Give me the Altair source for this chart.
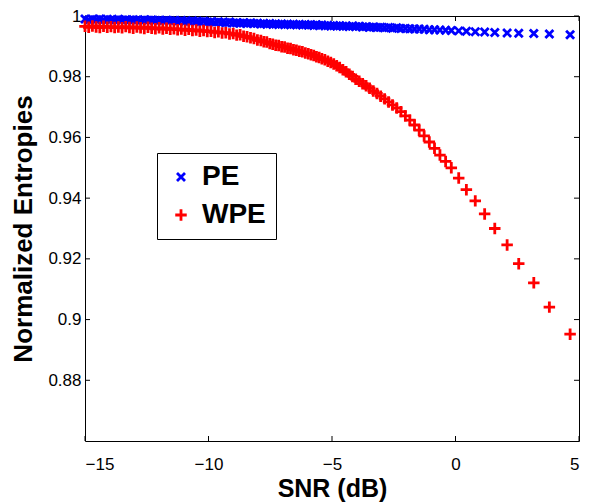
import altair as alt
import pandas as pd

snr = [
    -15.00, -14.85, -14.70, -14.55, -14.40, -14.25, -14.10, -13.95,
    -13.80, -13.65, -13.50, -13.35, -13.20, -13.05, -12.90, -12.75,
    -12.60, -12.45, -12.30, -12.15, -12.00, -11.85, -11.70, -11.55,
    -11.40, -11.25, -11.10, -10.95, -10.80, -10.65, -10.50, -10.35,
    -10.20, -10.05, -9.90, -9.75, -9.60, -9.45, -9.30, -9.15,
    -9.00, -8.86, -8.72, -8.58, -8.44, -8.30, -8.16, -8.02,
    -7.88, -7.76, -7.64, -7.52, -7.40, -7.28, -7.16, -7.04,
    -6.92, -6.80, -6.68, -6.56, -6.44, -6.32, -6.20, -6.08,
    -5.96, -5.85, -5.74, -5.63, -5.52, -5.41, -5.29, -5.17,
    -5.05, -4.93, -4.81, -4.69, -4.56, -4.43, -4.30, -4.17,
    -4.04, -3.90, -3.76, -3.62, -3.48, -3.33, -3.18, -3.03,
    -2.87, -2.71, -2.55, -2.38, -2.21, -2.03, -1.85, -1.66,
    -1.47, -1.27, -1.06, -0.85, -0.63, -0.40, -0.17, 0.13,
    0.44, 0.80, 1.18, 1.59, 2.09, 2.56, 3.17, 3.80,
    4.64,
]

pe = [
    0.9990, 0.9987, 0.9989, 0.9988, 0.9990, 0.9987, 0.9989, 0.9988,
    0.9986, 0.9989, 0.9987, 0.9988, 0.9986, 0.9988, 0.9987, 0.9985,
    0.9988, 0.9986, 0.9987, 0.9985, 0.9986, 0.9984, 0.9986, 0.9984,
    0.9985, 0.9983, 0.9985, 0.9983, 0.9982, 0.9984, 0.9982, 0.9981,
    0.9983, 0.9980, 0.9981, 0.9979, 0.9981, 0.9979, 0.9978, 0.9980,
    0.9977, 0.9978, 0.9976, 0.9978, 0.9975, 0.9977, 0.9975, 0.9976,
    0.9974, 0.9975, 0.9973, 0.9975, 0.9973, 0.9974, 0.9972, 0.9974,
    0.9972, 0.9973, 0.9971, 0.9973, 0.9971, 0.9972, 0.9970, 0.9972,
    0.9970, 0.9971, 0.9969, 0.9971, 0.9969, 0.9970, 0.9968, 0.9969,
    0.9967, 0.9969, 0.9967, 0.9968, 0.9966, 0.9967, 0.9965, 0.9967,
    0.9965, 0.9966, 0.9964, 0.9965, 0.9963, 0.9964, 0.9962, 0.9963,
    0.9961, 0.9962, 0.9960, 0.9961, 0.9959, 0.9959, 0.9958, 0.9957,
    0.9957, 0.9956, 0.9955, 0.9955, 0.9954, 0.9953, 0.9952, 0.9951,
    0.9950, 0.9948, 0.9947, 0.9946, 0.9944, 0.9943, 0.9942, 0.9941,
    0.9938,
]

wpe = [
    0.9966, 0.9963, 0.9967, 0.9964, 0.9962, 0.9966, 0.9963, 0.9965,
    0.9962, 0.9964, 0.9961, 0.9965, 0.9962, 0.9960, 0.9964, 0.9961,
    0.9959, 0.9963, 0.9960, 0.9958, 0.9961, 0.9957, 0.9960, 0.9956,
    0.9958, 0.9955, 0.9957, 0.9953, 0.9956, 0.9952, 0.9954, 0.9950,
    0.9952, 0.9949, 0.9950, 0.9946, 0.9948, 0.9944, 0.9945, 0.9941,
    0.9942, 0.9937, 0.9938, 0.9933, 0.9932, 0.9928, 0.9926, 0.9921,
    0.9919, 0.9915, 0.9914, 0.9909, 0.9907, 0.9904, 0.9903, 0.9899,
    0.9898, 0.9894, 0.9893, 0.9889, 0.9887, 0.9884, 0.9882, 0.9878,
    0.9876, 0.9872, 0.9870, 0.9866, 0.9863, 0.9859, 0.9856, 0.9851,
    0.9847, 0.9842, 0.9836, 0.9830, 0.9823, 0.9816, 0.9808, 0.9801,
    0.9792, 0.9785, 0.9777, 0.9770, 0.9762, 0.9753, 0.9745, 0.9736,
    0.9727, 0.9717, 0.9707, 0.9697, 0.9685, 0.9671, 0.9657, 0.9641,
    0.9624, 0.9605, 0.9585, 0.9564, 0.9542, 0.9521, 0.9500, 0.9466,
    0.9428, 0.9391, 0.9348, 0.9300, 0.9246, 0.9184, 0.9121, 0.9041,
    0.8952,
]

series_names = ["PE", "WPE"]
series_colors = ["#0000ff", "#ff0000"]
x_ticks = [-15, -10, -5, 0, 5]
y_ticks = [0.88, 0.90, 0.92, 0.94, 0.96, 0.98, 1.0]

W, H = 494, 425
FONT = "Liberation Sans, Arial, Helvetica, sans-serif"

rows = []
for s, v in zip(snr, pe):
    rows.append({"snr": s, "entropy": v, "series": "PE"})
for s, v in zip(snr, wpe):
    rows.append({"snr": s, "entropy": v, "series": "WPE"})
df = pd.DataFrame(rows)

xscale = alt.Scale(domain=[-15, 5], nice=False, zero=False)
yscale = alt.Scale(domain=[0.86, 1.0], nice=False, zero=False)

xaxis = alt.Axis(values=x_ticks, title="SNR (dB)", labelPadding=15, titlePadding=4,
                 titleFontSize=25)
yaxis = alt.Axis(values=y_ticks, format="~g", title="Normalized Entropies",
                 labelPadding=4, titlePadding=11, titleFontSize=26)

X = alt.X("snr:Q", scale=xscale, axis=xaxis)
Y = alt.Y("entropy:Q", scale=yscale, axis=yaxis)

x_path = "M-1,-1L1,1M-1,1L1,-1"
plus_path = "M-1,0L1,0M0,-1L0,1"

points = alt.Chart(df).mark_point(filled=False, strokeWidth=2.8, opacity=1).encode(
    x=X,
    y=Y,
    color=alt.Color("series:N", scale=alt.Scale(domain=series_names, range=series_colors),
                    legend=alt.Legend(orient="none", legendX=72, legendY=137, title=None,
                                      labelFontSize=28, labelFont=FONT, labelFontWeight="bold",
                                      labelColor="black", strokeColor="black", fillColor="white",
                                      padding=10, rowPadding=10, labelOffset=7,
                                      symbolOffset=0, symbolStrokeWidth=2.8)),
    shape=alt.Shape("series:N", scale=alt.Scale(domain=series_names, range=[x_path, plus_path])),
    size=alt.Size("series:N", scale=alt.Scale(domain=series_names, range=[64, 132])),
    order=alt.Order("series:N"),
)

xt = pd.DataFrame({"snr": x_ticks})
yt = pd.DataFrame({"entropy": y_ticks})
TL = 5
tick_bottom = alt.Chart(xt).mark_rule(color="black", strokeWidth=1).encode(
    x=X, y=alt.value(H), y2=alt.value(H - TL))
tick_top = alt.Chart(xt).mark_rule(color="black", strokeWidth=1).encode(
    x=X, y=alt.value(0), y2=alt.value(TL))
tick_left = alt.Chart(yt).mark_rule(color="black", strokeWidth=1).encode(
    y=Y, x=alt.value(0), x2=alt.value(TL))
tick_right = alt.Chart(yt).mark_rule(color="black", strokeWidth=1).encode(
    y=Y, x=alt.value(W), x2=alt.value(W - TL))

chart = alt.layer(tick_bottom, tick_top, tick_left, tick_right, points).properties(
    width=W, height=H,
    autosize=alt.AutoSizeParams(type="none"),
    padding={"left": 77, "top": 8, "right": 3, "bottom": 61},
    background="white",
).configure_view(
    stroke="black", strokeWidth=1
).configure_axis(
    domain=False, ticks=False, grid=False,
    labelFont=FONT, labelFontSize=17, labelColor="black",
    titleFont=FONT, titleFontWeight="bold", titleColor="black",
)

chart.save("out.html", embed_options={"renderer": "svg", "actions": False})
